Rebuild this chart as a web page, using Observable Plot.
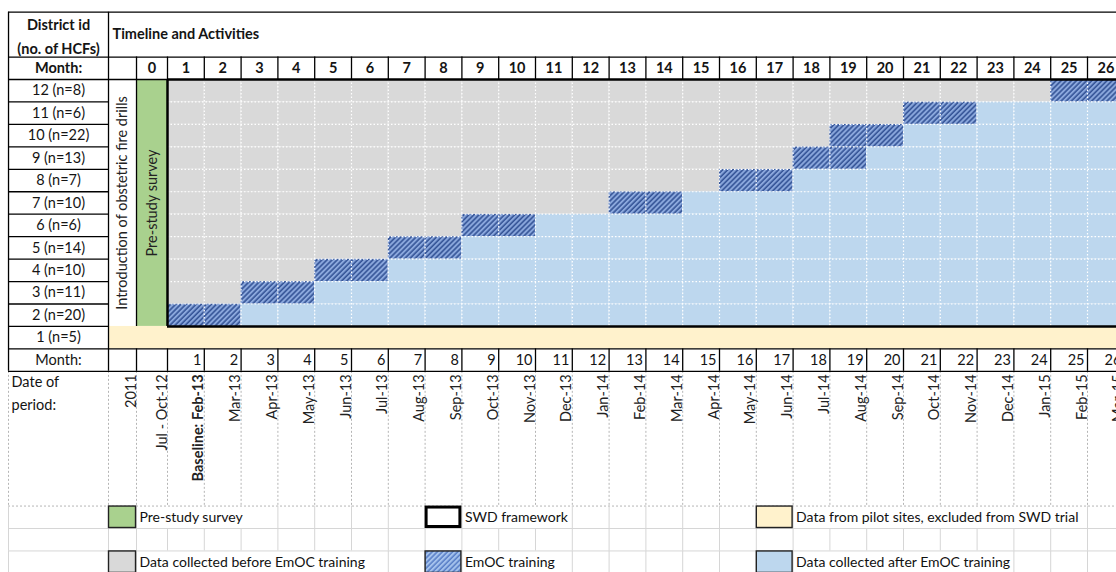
<!DOCTYPE html>
<html>
<head>
<meta charset="utf-8">
<script src="https://cdn.jsdelivr.net/npm/d3@7"></script>
<script src="https://cdn.jsdelivr.net/npm/@observablehq/plot@0.6"></script>
<style>
  html, body { margin: 0; padding: 0; background: #fff; }
  #chart svg { display: block; }
</style>
</head>
<body>
<div id="chart"></div>
<script>
// ---------------- data ----------------
const districts = [12, 11, 10, 9, 8, 7, 6, 5, 4, 3, 2, 1];
const hcfCounts = [8, 6, 22, 13, 7, 10, 6, 14, 10, 11, 20, 5];
const trialDistricts = [2, 3, 4, 5, 6, 7, 8, 9, 10, 11, 12];
const trainingStartMonth = [1, 3, 5, 7, 9, 13, 16, 18, 19, 21, 25];
const trainingDuration = 2;
const months = d3.range(1, 27);
const monthHeaders = d3.range(0, 27);
const datePrefixLabels = ["2011", "Jul - Oct-12"];
const baselineLabel = "Baseline: Feb-13";
const monthDateLabels = ["Mar-13", "Apr-13", "May-13", "Jun-13", "Jul-13", "Aug-13", "Sep-13", "Oct-13",
  "Nov-13", "Dec-13", "Jan-14", "Feb-14", "Mar-14", "Apr-14", "May-14", "Jun-14", "Jul-14", "Aug-14",
  "Sep-14", "Oct-14", "Nov-14", "Dec-14", "Jan-15", "Feb-15", "Mar-15"];
const stateKeys = ["prestudy", "swd", "pilot", "before", "training", "trainingKey", "after"];
const stateLabels = ["Pre-study survey", "SWD framework", "Data from pilot sites, excluded from SWD trial",
  "Data collected before EmOC training", "EmOC training", "EmOC training", "Data collected after EmOC training"];
const stateFills = ["#A9D18E", "#FFFFFF", "#FFF2CC", "#D9D9D9", "url(#hatchMain)", "url(#hatchKey)", "#BDD7EE"];

// ---------------- layout ----------------
const FONT = "Lato, 'Open Sans', sans-serif";
const FS = 14.5;
const LFS = 14;
const colUnit = 36.8;           // px per month column
const x0px = 167;               // left edge of month 1
const xpx = b => x0px + b * colUnit;
const X = { left: -4.32, intro: -1.603, zero: -0.842, right: 26.6 };
const Y = { top: -3, monthHead: -1, grid: 0, pilot: 11, monthFoot: 12, date: 13, legend: 19 };
const rowOf = d => districts.indexOf(d);

// grid cells
const cells = trialDistricts.flatMap((d, i) => months.map(m => {
  const s = trainingStartMonth[i];
  return { district: d, month: m,
    state: m < s ? "before" : m < s + trainingDuration ? "training" : "after" };
}));

// legend items: [key, column ("intro" or month col), legend row]
const legendSpec = [["prestudy", "intro", 0], ["swd", 8, 0], ["pilot", 17, 0],
                    ["before", "intro", 2], ["trainingKey", 8, 2], ["after", 17, 2]];
const legendItems = legendSpec.map(([key, col, row]) => ({
  key, row, label: stateLabels[stateKeys.indexOf(key)],
  x1: col === "intro" ? X.intro : col - 1,
  x2: col === "intro" ? X.zero : col
}));

const ctx = document.createElement("canvas").getContext("2d");
ctx.font = `${LFS}px Lato`;
const textW = s => ctx.measureText(s).width;

const legendBounds = [X.left, X.intro, X.zero, ...d3.range(0, 27)];
const legendGrid = [];
for (let r = 0; r < 3; r++) {
  for (const b of legendBounds) {
    const hidden = legendItems.some(it => it.row === r &&
      xpx(b) > xpx(it.x2) + 1 && xpx(b) < xpx(it.x2) + 3 + textW(it.label));
    if (!hidden) legendGrid.push({ x: b, y1: Y.legend + r, y2: Y.legend + r + 1 });
  }
}

// borders
const hLines = [
  { y: Y.top, x1: X.left, x2: X.right },
  { y: Y.monthHead, x1: X.left, x2: X.right },
  { y: Y.grid, x1: X.left, x2: 0 },
  ...d3.range(1, 11).map(y => ({ y, x1: X.left, x2: X.intro })),
  { y: Y.pilot, x1: X.left, x2: X.intro },
  { y: Y.monthFoot, x1: X.left, x2: X.right },
  { y: Y.date, x1: X.left, x2: X.right }
];
const vLines = [
  { x: X.left, y1: Y.top, y2: Y.date },
  { x: X.intro, y1: Y.top, y2: Y.date },
  { x: X.zero, y1: Y.monthHead, y2: Y.pilot },
  { x: X.zero, y1: Y.monthFoot, y2: Y.date },
  ...d3.range(0, 27).flatMap(m => [
    { x: m, y1: Y.monthHead, y2: Y.grid },
    { x: m, y1: Y.monthFoot, y2: Y.date }
  ])
];

const rot = { rotate: -90, textAnchor: "end", lineAnchor: "bottom", dx: -1, dy: 3, fill: "#222" };

const chart = Plot.plot({
  width: 1116, height: 572, margin: 0,
  x: { type: "linear", domain: [0, 26], range: [x0px, xpx(26)], axis: null },
  y: { type: "linear", domain: [0, 12], range: [79, 348.4], axis: null },
  color: { type: "ordinal", domain: stateKeys, range: stateFills },
  style: { fontFamily: FONT, fontSize: FS + "px", color: "#141414", background: "#fff", overflow: "hidden" },
  marks: [
    // cells
    Plot.rect(cells, { x1: d => d.month - 1, x2: d => d.month, y1: d => rowOf(d.district), y2: d => rowOf(d.district) + 1, fill: "state" }),
    Plot.rect([{ k: "prestudy" }], { x1: X.zero, x2: 0, y1: Y.grid, y2: Y.pilot, fill: "k" }),
    Plot.rect([{ k: "pilot" }], { x1: X.intro, x2: X.right, y1: Y.pilot, y2: Y.monthFoot, fill: "k" }),
    // white dotted gridlines
    Plot.ruleX(d3.range(1, 26), { x: d => d, y1: Y.grid, y2: Y.pilot, stroke: "#fff", strokeWidth: 1.2, strokeDasharray: "1.5,2" }),
    Plot.ruleY(d3.range(1, 11), { y: d => d, x1: 0, x2: X.right, stroke: "#fff", strokeWidth: 1.2, strokeDasharray: "1.5,2" }),
    // date area dotted lines
    Plot.ruleX([X.left, X.intro, X.zero, ...d3.range(0, 27)], { x: d => d, y1: Y.date, y2: Y.legend, stroke: "#B5B5B5", strokeDasharray: "2,2" }),
    Plot.ruleY([Y.legend], { y: d => d, x1: X.left, x2: X.right, stroke: "#B5B5B5", strokeDasharray: "2,2" }),
    // legend area light gridlines
    Plot.ruleX(legendGrid, { x: "x", y1: "y1", y2: "y2", stroke: "#D6D6D6" }),
    Plot.ruleY([Y.legend + 1, Y.legend + 2], { y: d => d, x1: X.left, x2: X.right, stroke: "#D6D6D6" }),
    // table borders
    Plot.ruleY(hLines, { y: "y", x1: "x1", x2: "x2", stroke: "#000", strokeWidth: 1.3 }),
    Plot.ruleX(vLines, { x: "x", y1: "y1", y2: "y2", stroke: "#000", strokeWidth: 1.3 }),
    // SWD framework (thick frame)
    Plot.ruleY([Y.grid, Y.pilot], { y: d => d, x1: 0, x2: X.right, stroke: "#000", strokeWidth: 2.5 }),
    Plot.ruleX([0], { x: d => d, y1: Y.grid, y2: Y.pilot, stroke: "#000", strokeWidth: 2.5 }),
    // header texts
    Plot.text(["District id\n(no. of HCFs)"], { x: (X.left + X.intro) / 2, y: (Y.top + Y.monthHead) / 2, text: d => d, fontWeight: "bold", lineHeight: 1.6 }),
    Plot.text(["Timeline and Activities"], { x: X.intro, y: (Y.top + Y.monthHead) / 2, text: d => d, textAnchor: "start", dx: 4, fontWeight: "bold" }),
    Plot.text(["Month:"], { x: (X.left + X.intro) / 2, y: Y.monthHead + 0.5, text: d => d, fontWeight: "bold" }),
    Plot.text(monthHeaders, { x: m => m === 0 ? X.zero / 2 : m - 0.5, y: Y.monthHead + 0.5, text: m => String(m), fontWeight: "bold" }),
    // district labels
    Plot.text(districts, { x: (X.left + X.intro) / 2, y: d => rowOf(d) + 0.5, text: (d, i) => `${d} (n=${hcfCounts[i]})` }),
    // rotated column labels
    Plot.text(["Introduction of obstetric fire drills"], { x: (X.intro + X.zero) / 2, y: (Y.grid + Y.pilot) / 2, text: d => d, rotate: -90, fill: "#222" }),
    Plot.text(["Pre-study survey"], { x: X.zero / 2, y: (Y.grid + Y.pilot) / 2, text: d => d, rotate: -90, fill: "#222" }),
    // bottom month row
    Plot.text(["Month:"], { x: (X.left + X.intro) / 2, y: Y.monthFoot + 0.5, text: d => d }),
    Plot.text(months, { x: m => m, y: Y.monthFoot + 0.5, text: m => String(m), textAnchor: "end", dx: -3 }),
    // date of period
    Plot.text(["Date of", "period:"], { x: X.left, y: (d, i) => Y.date + 0.5 + i, text: d => d, textAnchor: "start", dx: 3 }),
    Plot.text(datePrefixLabels, { x: (d, i) => [X.zero, 0][i], y: Y.date, text: d => d, ...rot }),
    Plot.text([baselineLabel], { x: 1, y: Y.date, text: d => d, ...rot, fontWeight: "bold" }),
    Plot.text(monthDateLabels, { x: (d, i) => i + 2, y: Y.date, text: d => d, ...rot }),
    // legend
    Plot.rect(legendItems.filter(d => d.key !== "swd"), { x1: "x1", x2: "x2", y1: d => Y.legend + d.row, y2: d => Y.legend + d.row + 1, fill: "key", stroke: "#222", strokeWidth: 1.4, inset: 0.5 }),
    Plot.rect(legendItems.filter(d => d.key === "swd"), { x1: "x1", x2: "x2", y1: d => Y.legend + d.row, y2: d => Y.legend + d.row + 1, fill: "key", stroke: "#000", strokeWidth: 3, inset: 1.5 }),
    Plot.text(legendItems, { x: "x2", y: d => Y.legend + d.row + 0.5, text: "label", textAnchor: "start", dx: 3, fill: "#111", fontSize: LFS })
  ]
});

// hatch patterns
const ns = "http://www.w3.org/2000/svg";
const defs = document.createElementNS(ns, "defs");
function addHatch(id, bg, fg, sw) {
  const p = document.createElementNS(ns, "pattern");
  p.setAttribute("id", id);
  p.setAttribute("patternUnits", "userSpaceOnUse");
  p.setAttribute("width", "3.6");
  p.setAttribute("height", "3.6");
  p.setAttribute("patternTransform", "rotate(45)");
  const r = document.createElementNS(ns, "rect");
  r.setAttribute("width", "3.6"); r.setAttribute("height", "3.6"); r.setAttribute("fill", bg);
  const l = document.createElementNS(ns, "line");
  l.setAttribute("x1", "1"); l.setAttribute("x2", "1"); l.setAttribute("y1", "-1"); l.setAttribute("y2", "5");
  l.setAttribute("stroke", fg); l.setAttribute("stroke-width", sw);
  p.appendChild(r); p.appendChild(l);
  defs.appendChild(p);
}
addHatch("hatchMain", "#8AA7DC", "#2F4F93", "1.5");
addHatch("hatchKey", "#A4C2EC", "#4A72C0", "1.3");
chart.insertBefore(defs, chart.firstChild);
document.getElementById("chart").appendChild(chart);
</script>
</body>
</html>
